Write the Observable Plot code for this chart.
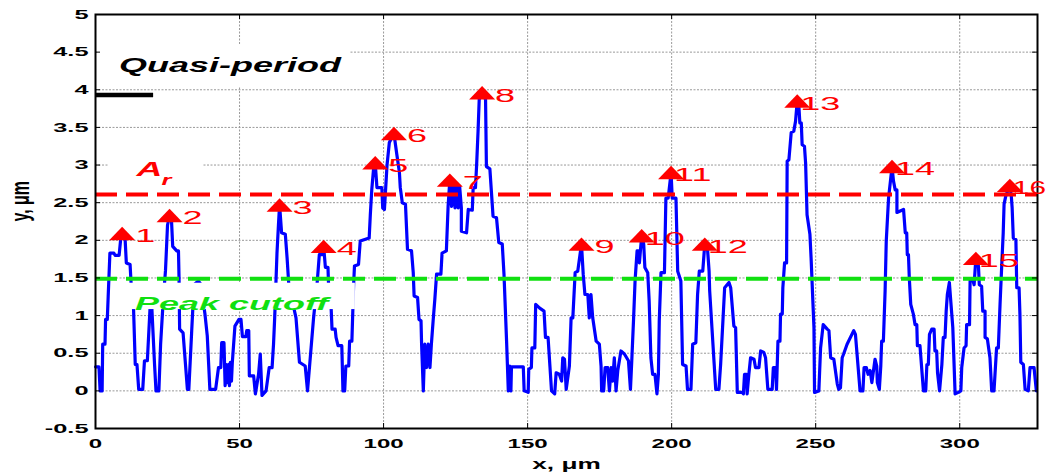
<!DOCTYPE html>
<html>
<head>
<meta charset="utf-8">
<script src="https://cdn.jsdelivr.net/npm/d3@7"></script>
<script src="https://cdn.jsdelivr.net/npm/@observablehq/plot@0.6"></script>
<style>
  html, body { margin: 0; padding: 0; background: #fff; }
  #chart svg { display: block; }
</style>
</head>
<body>
<div id="chart"></div>
<script>
// ---------- data ----------
const profile = [
  [0,0.32],[1.2,0.32],[1.6,0],[2.3,0],[2.5,0.62],[3.3,0.62],[3.5,0.95],[4.1,0.95],[4.4,1.25],[5.0,1.83],
  [6.4,1.83],[6.8,1.80],[8.2,1.80],[8.7,2.0],[9.25,2.09],[10.3,2.0],[10.7,1.70],[12.0,1.68],[12.4,1.40],[13.2,1.1],
  [13.8,0.35],[14.4,0.35],[15.0,0.02],[16.4,0.02],[17.0,0.40],[18.0,0.40],[19.0,1.15],[19.5,1.15],[20.5,0.35],[21.0,0],
  [22.0,0],[22.6,0.62],[23.5,1.2],[24.3,1.6],[25.0,2.2],[25.7,2.33],[26.4,2.25],[26.8,1.92],[28.2,1.86],[28.8,1.86],
  [29.0,1.5],[29.2,0.82],[30.4,0.77],[31.9,0.02],[32.4,0.02],[33.4,0.8],[34.2,1.41],[35.7,1.46],[36.5,1.42],[38.0,1.02],
  [38.8,0.73],[39.7,0.02],[41.7,0.02],[42.7,0.31],[43.5,0.31],[43.8,0.64],[44.6,0.64],[45.0,0.07],[45.4,0.35],[45.8,0.11],
  [46.1,0.35],[46.5,0.07],[46.8,0.38],[47.2,0.13],[47.5,0.38],[48.4,0.86],[49.8,0.95],[50.5,0.95],[51.0,0.72],[52.2,0.72],
  [52.5,0.8],[53.2,0.8],[53.4,0.2],[54.9,0.2],[55.5,-0.04],[56.6,0.22],[57.2,0.49],[57.8,-0.06],[59.2,0],[60.3,0.31],
  [61.3,0.31],[61.8,0.62],[62.2,0.97],[63.0,1.83],[63.5,2.2],[63.9,2.47],[64.6,2.1],[65.9,2.08],[66.5,1.77],[67.1,1.41],
  [69.6,0.97],[70.8,0.38],[72.8,0.33],[73.6,0],[75.7,0.97],[76.9,1.41],[77.7,1.81],[78.8,1.81],[79.2,1.92],[79.8,1.64],
  [80.7,1.64],[80.9,1.41],[81.8,1.1],[82.1,0.82],[83.2,0.82],[83.5,0.71],[84.2,0.6],[85.5,0.6],[85.9,0],[86.5,0],
  [86.9,0.33],[87.9,0.33],[88.2,0.66],[89.0,0.66],[89.6,1.41],[89.9,1.66],[91.3,1.68],[91.9,1.99],[95.0,2.03],[95.4,2.34],
  [95.9,2.67],[96.5,2.94],[97.1,3.03],[97.7,2.7],[99.4,2.7],[99.7,2.43],[100.3,2.41],[101.2,3.0],[102.0,3.3],[103.6,3.42],
  [104.6,3.14],[105.5,2.9],[105.8,2.7],[106.5,2.5],[107.6,2.48],[108.3,1.88],[109.7,1.86],[110.3,1.57],[110.6,1.26],[111.8,1.24],
  [112.3,0.95],[113.0,0.93],[113.2,0.62],[113.8,0],[114.3,0.62],[114.9,0.31],[115.5,0.62],[116.1,0.31],[116.6,0.62],[117.2,0.93],
  [117.8,1.22],[118.4,1.55],[119.9,1.55],[120.3,1.83],[121.8,1.86],[122.4,2.45],[123.0,2.80],[123.6,2.45],[124.2,2.72],[124.8,2.43],
  [125.3,2.72],[125.9,2.43],[126.4,2.72],[127.0,2.43],[127.0,2.12],[128.8,2.1],[129.4,2.41],[130.8,2.4],[131.1,2.7],[131.9,2.7],
  [132.3,3.0],[132.8,3.45],[133.2,3.87],[134.2,3.96],[135.4,3.87],[135.7,2.98],[136.9,2.95],[138.0,2.32],[139.2,2.3],[140.0,1.97],
  [141.2,1.95],[141.8,1.55],[142.7,0.66],[143.3,0],[143.8,0.33],[144.2,0],[144.4,0.32],[148.5,0.32],[148.8,0],[150.2,-0.02],
  [150.4,0.29],[151.3,0.31],[151.5,0.57],[152.5,0.57],[152.8,1.15],[154.2,1.1],[155.7,1.06],[156.2,0.71],[157.1,0.71],[158.3,0],
  [159.4,-0.04],[159.9,0.24],[161.0,0.22],[161.8,0.13],[162.2,0.44],[162.8,0.42],[163.4,0.02],[164.5,0.33],[165.1,0.97],[165.7,0.97],
  [166.5,1.57],[167.4,1.59],[168.7,1.95],[169.3,1.55],[169.9,1.28],[170.9,1.28],[171.4,0.97],[172.0,1.28],[172.6,0.97],[173.8,0.66],
  [174.9,0.62],[175.5,0.33],[175.7,0],[176.4,0],[176.9,0.31],[177.8,0.31],[178.4,0],[179.0,0.31],[179.5,0.13],[180.1,0.44],
  [180.7,0],[181.3,0.27],[182.4,0.53],[183.6,0.49],[185.0,0.4],[185.7,0.02],[186.1,0.35],[186.8,0.97],[187.3,1.46],[188.0,1.86],
  [188.4,1.86],[188.8,1.7],[189.6,2.06],[190.3,1.95],[190.7,1.64],[191.7,1.57],[192.2,1.19],[192.8,0.44],[193.4,0.22],[194.2,0.22],
  [194.9,-0.04],[195.4,0.22],[195.7,0.93],[196.3,1.57],[197.5,1.57],[198.0,2.56],[198.8,2.56],[199.8,2.90],[200.2,2.56],[201.5,2.56],
  [202.1,1.59],[203.2,1.46],[203.8,0.35],[205.0,0.33],[205.5,0.02],[206.7,0.02],[207.3,0.62],[208.4,0.64],[209.0,1.28],[209.6,1.59],
  [210.8,1.59],[211.5,1.95],[212.5,1.86],[213.0,1.59],[213.2,1.33],[215.3,0.02],[216.4,0.02],[217.0,0.35],[218.4,1.37],[219.9,1.44],
  [220.5,1.37],[221.6,0.86],[222.2,0.84],[222.8,-0.02],[224.5,-0.02],[224.9,-0.04],[225.3,0.22],[226.0,0.22],[226.2,-0.04],[226.8,0.22],
  [227.4,0.44],[228.6,0.42],[229.1,0.31],[230.3,0.31],[230.9,0.53],[232.0,0.51],[232.6,0.44],[233.4,0.02],[234.9,0.02],[235.3,0.31],
  [236.1,0.31],[236.4,0.02],[236.9,0.66],[237.6,0.66],[237.8,1.02],[238.4,1.02],[238.6,1.37],[239.2,1.7],[239.9,1.7],[240.1,3.05],
  [240.7,3.07],[241.5,3.43],[242.4,3.45],[243.0,3.58],[243.6,3.85],[244.2,3.76],[244.5,3.56],[245.0,3.56],[245.3,3.27],[246.1,3.25],
  [246.5,3.03],[247.0,2.34],[248.0,2.08],[248.4,1.77],[249.4,0.84],[249.6,-0.02],[251.1,0],[251.7,0.57],[252.6,0.88],[254.0,0.82],
  [254.6,0.8],[255.2,0.44],[256.3,0.42],[257.5,0.09],[258.0,0.02],[258.6,0.04],[259.2,0.44],[259.7,0.49],[260.9,0.62],[263.2,0.8],
  [263.8,0.75],[265.4,0],[266.4,0],[266.8,0.31],[267.6,0.31],[268.2,0.22],[268.9,0.27],[269.5,0.11],[270.6,0.42],[271.2,0.33],
  [271.4,0.11],[272.1,0.02],[272.6,0.33],[272.9,0.66],[273.5,0.66],[274.1,1.33],[274.5,1.99],[275.3,2.56],[276.5,2.98],[277.0,2.79],
  [277.6,2.67],[278.2,2.67],[278.2,2.37],[280.5,2.41],[281.1,2.1],[281.6,2.1],[281.8,1.81],[282.2,1.81],[282.5,1.5],[283.0,1.15],
  [283.9,1.02],[284.5,0.88],[285.1,0.88],[285.3,0.6],[286.2,0.6],[287.4,0],[288.2,0],[288.6,0.35],[289.1,0.35],[289.5,0.75],
  [290.3,0.82],[291.1,0.82],[291.4,0.53],[292.0,0.53],[292.3,0.24],[293.0,0],[293.8,0.35],[294.3,0.71],[294.9,0.71],[295.3,1.06],
  [295.7,1.28],[296.4,1.44],[296.9,1.19],[297.6,0.84],[298.4,-0.04],[299.5,-0.02],[300.4,0],[300.7,0.31],[301.5,0.57],[302.2,0.6],
  [302.4,0.88],[303.4,0.88],[303.6,1.46],[304.5,1.48],[305.0,1.41],[305.6,1.76],[306.5,1.66],[306.8,1.41],[307.6,1.39],[308.0,1.06],
  [308.8,1.06],[308.8,0.71],[309.6,0.69],[310.5,0.44],[311.1,0],[311.9,0],[312.8,0.57],[313.4,0.57],[314.0,1.15],[314.6,1.68],
  [315.1,2.1],[315.4,2.48],[316.0,2.59],[317.4,2.73],[317.9,2.59],[318.2,2.43],[318.6,2.03],[319.5,2.01],[319.8,1.37],[320.6,1.37],
  [320.9,1.02],[321.2,0.38],[322.1,0.35],[322.7,0.02],[323.8,0],[324.4,0.31],[325.8,0.31],[326.6,0]
];

const peakX = [9.25, 25.7, 63.9, 79.2, 97.1, 103.6, 123.0, 134.2, 168.7, 189.6, 199.8, 211.5, 243.6, 276.5, 305.6, 317.4];
const peakY = [2.09, 2.33, 2.47, 1.92, 3.03, 3.42, 2.80, 3.96, 1.95, 2.06, 2.90, 1.95, 3.85, 2.98, 1.76, 2.73];

const arLevel = 2.61;       // A_r (red dashed)
const cutoffLevel = 1.49;   // Peak cutoff (green dashed)
const quasiPeriod = [[0, 3.93], [20, 3.93]];

const xTicks = [0, 50, 100, 150, 200, 250, 300];
const yTicks = [-0.5, 0, 0.5, 1, 1.5, 2, 2.5, 3, 3.5, 4, 4.5, 5];

// white label backgrounds (data units)
const labelBoxes = [
  {x1: 0.7, x2: 88.5, y1: 4.03, y2: 4.59},
  {x1: 4.5, x2: 37.5, y1: 2.66, y2: 3.19},
  {x1: 8.7, x2: 90.2, y1: 1.08, y2: 1.43}
];
const quasiLabel = [{x: 8.2, y: 4.24, text: "Quasi-period"}];
const cutoffLabel = [{x: 13.7, y: 1.08, text: "Peak cutoff"}];
const arLabelA = [{x: 14.2, y: 2.86, text: "A"}];
const arLabelR = [{x: 22.9, y: 2.73, text: "r"}];

// ---------- build ----------
const W = 1048, H = 473;
const mL = 95, mR = 11, mT = 14, mB = 45;
const innerW = W - mL - mR, innerH = H - mT - mB;
const FONT = "'Liberation Sans', Arial, Helvetica, sans-serif";

const line = profile.map(([x, y]) => ({x, y}));
const peaks = peakX.map((x, i) => ({
  x, y: peakY[i],
  label: (i + 1 < 10 ? "\u00a0" : "") + String(i + 1)
}));

const triangle = {
  draw(ctx) {
    ctx.moveTo(0, -6.7);
    ctx.lineTo(13, 6.7);
    ctx.lineTo(-13, 6.7);
    ctx.closePath();
  }
};

function tag(mark, name) { mark.ariaLabel = name; return mark; }

const chart = Plot.plot({
  width: W, height: H,
  marginLeft: mL, marginRight: mR, marginTop: mT, marginBottom: mB,
  style: {fontFamily: FONT, fontSize: "13px", fontWeight: "bold", background: "white", color: "black", overflow: "visible"},
  x: {domain: [0, 327]},
  y: {domain: [-0.5, 5]},
  marks: [
    Plot.ruleX(xTicks, {stroke: "#999", strokeWidth: 1, strokeDasharray: "2,1.5"}),
    Plot.ruleY(yTicks, {stroke: "#999", strokeWidth: 1, strokeDasharray: "2,1.5"}),
    Plot.line(line, {x: "x", y: "y", stroke: "#0000ff", strokeWidth: 3.2, curve: "linear"}),
    Plot.rect(labelBoxes, {x1: "x1", x2: "x2", y1: "y1", y2: "y2", fill: "white"}),
    Plot.ruleY([arLevel], {stroke: "#ff0000", strokeWidth: 4, strokeDasharray: "22,9"}),
    Plot.ruleY([cutoffLevel], {stroke: "#10e010", strokeWidth: 4, strokeDasharray: "22,9"}),
    Plot.line(quasiPeriod, {x: d => d[0], y: d => d[1], stroke: "black", strokeWidth: 4.5, strokeLinecap: "butt"}),
    Plot.frame({stroke: "black", strokeWidth: 2}),
    Plot.tickY(yTicks, {y: d => d, stroke: "black", insetRight: innerW - 5}),
    Plot.tickY(yTicks, {y: d => d, stroke: "black", insetLeft: innerW - 5}),
    Plot.tickX(xTicks, {x: d => d, stroke: "black", insetTop: innerH - 5}),
    Plot.tickX(xTicks, {x: d => d, stroke: "black", insetBottom: innerH - 5}),
    Plot.dot(peaks, {x: "x", y: "y", symbol: triangle, fill: "#ff0000", stroke: "none"}),
    tag(Plot.text(peaks, {x: "x", y: "y", text: "label", fill: "#ff0000", fontSize: 18, fontWeight: "normal",
      textAnchor: "start", lineAnchor: "middle", dx: 3, dy: 3}), "peak label"),
    tag(Plot.text(quasiLabel, {x: "x", y: "y", text: "text", fill: "black", fontSize: 20, fontWeight: "bold",
      fontStyle: "italic", textAnchor: "start", lineAnchor: "bottom"}), "quasi label"),
    tag(Plot.text(cutoffLabel, {x: "x", y: "y", text: "text", fill: "#10e010", fontSize: 18, fontWeight: "bold",
      fontStyle: "italic", textAnchor: "start", lineAnchor: "bottom"}), "cutoff label"),
    tag(Plot.text(arLabelA, {x: "x", y: "y", text: "text", fill: "#ff0000", fontSize: 21, fontWeight: "bold",
      fontStyle: "italic", textAnchor: "start", lineAnchor: "bottom"}), "ar label"),
    tag(Plot.text(arLabelR, {x: "x", y: "y", text: "text", fill: "#ff0000", fontSize: 15, fontWeight: "bold",
      fontStyle: "italic", textAnchor: "start", lineAnchor: "bottom"}), "ar label"),
    Plot.axisX({ticks: xTicks, tickSize: 0, tickPadding: 10, label: null, fontSize: 13, fontWeight: "bold"}),
    Plot.axisY({ticks: yTicks, tickSize: 0, tickPadding: 7, label: null, fontSize: 13, fontWeight: "bold",
      tickFormat: d => String(d)}),
    tag(Plot.text(["x, \u03bcm"], {frameAnchor: "bottom", dy: 40, lineAnchor: "bottom", fontSize: 15,
      fontWeight: "bold", fill: "black"}), "x label"),
    tag(Plot.text(["y, \u03bcm"], {frameAnchor: "left", dx: -75, rotate: -90, lineAnchor: "middle", fontSize: 16,
      fontWeight: "bold", fill: "black"}), "y label")
  ]
});

document.getElementById("chart").appendChild(chart);

// MATLAB export was stretched horizontally: widen the glyphs about their anchors
const factors = {
  "x-axis tick label": 1.85, "y-axis tick label": 1.95, "peak label": 2.0, "quasi label": 1.8,
  "cutoff label": 2.0, "ar label": 1.7, "x label": 1.75, "y label": 1.6
};
function applyStretch(t, f) {
  const base = t.dataset.baseTransform;
  if (base) {
    t.setAttribute("transform", base + (base.includes("rotate") ? ` scale(1,${f})` : ` scale(${f},1)`));
  } else {
    const x = parseFloat(t.getAttribute("x")) || 0;
    t.setAttribute("transform", `translate(${x},0) scale(${f},1) translate(${-x},0)`);
  }
}
chart.querySelectorAll("text").forEach(t => {
  const g = t.closest("g[aria-label]");
  const name = g ? g.getAttribute("aria-label") : null;
  const f = factors[name] ?? 1.85;
  const tr = t.getAttribute("transform");
  if (tr) t.dataset.baseTransform = tr;
  applyStretch(t, f);
  // keep labels inside the picture: narrow any that would run past the right edge
  const svgBox = chart.getBoundingClientRect();
  const b = t.getBoundingClientRect();
  const limit = svgBox.left + W - 2;
  if (b.right > limit && b.width > 0) {
    const f2 = f * (limit - b.left) / b.width;
    applyStretch(t, Math.max(1, f2));
  }
});
</script>
</body>
</html>
